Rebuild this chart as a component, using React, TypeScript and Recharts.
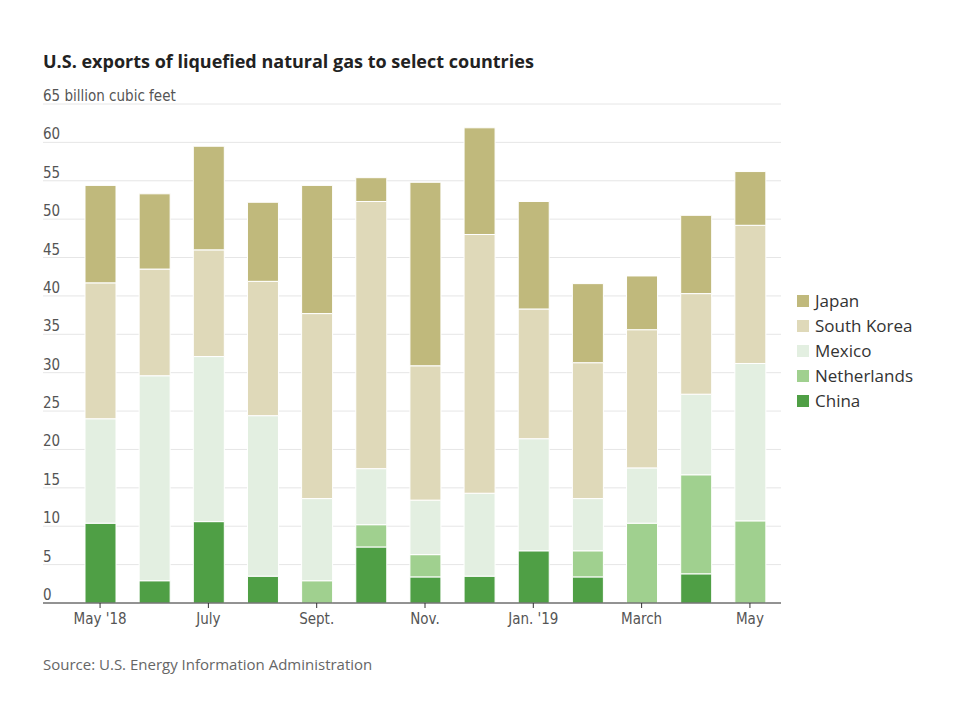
import React from 'react';
import { BarChart, Bar, XAxis, YAxis, CartesianGrid } from 'recharts';

const months = ["May '18", 'June', 'July', 'Aug.', 'Sept.', 'Oct.', 'Nov.', 'Dec.', "Jan. '19", 'Feb.', 'March', 'April', 'May'];
const china = [10.4, 2.9, 10.6, 3.5, 0, 7.3, 3.4, 3.5, 6.8, 3.4, 0, 3.8, 0];
const netherlands = [0, 0, 0, 0, 2.9, 2.9, 2.9, 0, 0, 3.4, 10.4, 12.9, 10.7];
const mexico = [13.6, 26.7, 21.5, 20.9, 10.7, 7.3, 7.1, 10.8, 14.6, 6.8, 7.2, 10.5, 20.5];
const southKorea = [17.7, 13.9, 13.9, 17.5, 24.1, 34.8, 17.5, 33.7, 16.9, 17.7, 18.0, 13.1, 18.0];
const japan = [12.7, 9.8, 13.5, 10.3, 16.7, 3.1, 23.9, 13.9, 14.0, 10.3, 7.0, 10.2, 7.0];
const yTicks = [0, 5, 10, 15, 20, 25, 30, 35, 40, 45, 50, 55, 60, 65];

const series = [
  { key: 'china', name: 'China', color: '#4f9f45' },
  { key: 'netherlands', name: 'Netherlands', color: '#a0d08f' },
  { key: 'mexico', name: 'Mexico', color: '#e3efe1' },
  { key: 'southKorea', name: 'South Korea', color: '#dfd9b9' },
  { key: 'japan', name: 'Japan', color: '#c0b97c' },
];

const data = months.map((m, i) => ({
  month: m,
  china: china[i],
  netherlands: netherlands[i],
  mexico: mexico[i],
  southKorea: southKorea[i],
  japan: japan[i],
}));

const narrow = "'Liberation Sans Narrow', 'DejaVu Sans Condensed', 'Roboto', sans-serif";
const sans = "'Open Sans', 'Lato', sans-serif";

function YTick(props: any) {
  const { y, payload } = props;
  const label = payload.value === 65 ? '65 billion cubic feet' : String(payload.value);
  return (
    <text x={43} y={y - 3} textAnchor="start" fill="#555" fontSize={15} fontFamily={narrow}>
      {label}
    </text>
  );
}

export default function App() {
  const legendItems = [...series].reverse();
  return (
    <div style={{ position: 'absolute', left: 0, top: 0, width: 960, height: 720, background: '#fff' }}>
      <div style={{ position: 'absolute', left: 43, top: 49, fontFamily: sans, fontWeight: 700, fontSize: 18, color: '#222' }}>
        U.S. exports of liquefied natural gas to select countries
      </div>
      <BarChart width={960} height={720} data={data} margin={{ top: 104, right: 179, bottom: 87, left: 42 }}>
        <CartesianGrid vertical={false} stroke="#e6e6e6" />
        <XAxis
          dataKey="month"
          interval={1}
          padding={{ left: 30, right: 4 }}
          axisLine={{ stroke: '#333' }}
          tickLine={{ stroke: '#333' }}
          tickSize={5}
          tickMargin={5}
          tick={{ fill: '#555', fontSize: 15, fontFamily: narrow }}
          height={30}
        />
        <YAxis width={1} domain={[0, 65]} ticks={yTicks} axisLine={false} tickLine={false} tick={(p: any) => <YTick {...p} />} />
        {series.map((s) => (
          <Bar key={s.key} dataKey={s.key} name={s.name} stackId="a" fill={s.color} stroke="#fff" strokeWidth={1} barSize={31} isAnimationActive={false} />
        ))}
      </BarChart>
      <div style={{ position: 'absolute', left: 797, top: 288, fontFamily: sans }}>
        {legendItems.map((s) => (
          <div key={s.key} style={{ display: 'flex', alignItems: 'center', height: 25 }}>
            <span style={{ width: 12, height: 12, background: s.color, display: 'inline-block', marginRight: 6 }} />
            <span style={{ fontSize: 17, color: '#333' }}>{s.name}</span>
          </div>
        ))}
      </div>
      <div style={{ position: 'absolute', left: 43, top: 654, fontFamily: sans, fontSize: 15, color: '#666' }}>
        Source: U.S. Energy Information Administration
      </div>
    </div>
  );
}
